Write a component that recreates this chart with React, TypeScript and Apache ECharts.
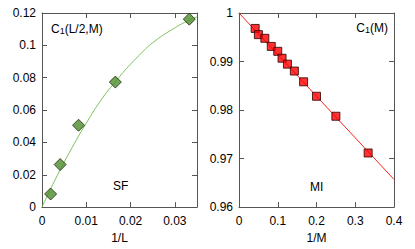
import React, { useEffect, useRef } from "react";
import * as echarts from "echarts";

// Left panel (SF): C1(L/2,M) vs 1/L
const sfX = [0.00195, 0.0041, 0.00825, 0.01656, 0.03326];
const sfY = [0.0081, 0.0263, 0.0506, 0.0773, 0.1162];
// fitted curve
const sfFitX = [0, 0.0034, 0.0068, 0.0104, 0.0138, 0.0167, 0.019, 0.022, 0.025, 0.0295, 0.0334, 0.035];
const sfFitY = [0, 0.0193, 0.0368, 0.0537, 0.068, 0.0779, 0.0854, 0.094, 0.1016, 0.11, 0.1158, 0.1176];

// Right panel (MI): C1(M) vs 1/M
const miX = [0.0417, 0.05, 0.0667, 0.0833, 0.1, 0.1111, 0.125, 0.1429, 0.1667, 0.2, 0.25, 0.3333];
const miY = [0.99682, 0.99554, 0.99479, 0.99311, 0.9921, 0.99068, 0.98946, 0.98804, 0.98582, 0.98284, 0.97872, 0.97115];
const miFitX = [0, 0.4];
const miFitY = [1.0, 0.9657];

const FONT = "Liberation Sans, Arial, Helvetica, sans-serif";
const AXC = "#555555";

function fmt(v: number) {
  return String(+v.toFixed(4));
}

export default function App() {
  const ref = useRef<HTMLDivElement>(null);
  useEffect(() => {
    document.body.style.margin = "0";
    const chart = echarts.init(ref.current!, null, { renderer: "svg" });
    const axisCommon = (show: boolean) => ({
      axisLine: { show: true, onZero: false, lineStyle: { color: AXC, width: 1 } },
      axisTick: { show: true, inside: true, length: 5, lineStyle: { color: AXC } },
      splitLine: { show: false },
      axisLabel: {
        show,
        color: "#000",
        fontSize: 12,
        fontFamily: FONT,
      },
    });
    const xLeft = {
      type: "value",
      gridIndex: 0,
      min: 0,
      max: 0.035,
      interval: 0.01,
      name: "1/L",
      nameLocation: "middle",
      nameGap: 24,
      nameTextStyle: { color: "#000", fontSize: 12, fontFamily: FONT },
    };
    const xLeftFmt = (v: number) =>
      Math.abs(v * 100 - Math.round(v * 100)) < 1e-6 ? fmt(v) : "";
    const option: any = {
      animation: false,
      backgroundColor: "#ffffff",
      grid: [
        { left: 42, top: 13, width: 155, height: 198 },
        { left: 239, top: 13, width: 155, height: 198 },
      ],
      xAxis: [
        {
          ...xLeft,
          ...axisCommon(true),
          position: "bottom",
          axisLabel: { ...axisCommon(true).axisLabel, margin: 8, formatter: xLeftFmt },
        },
        {
          ...xLeft,
          name: "",
          ...axisCommon(false),
          position: "top",
        },
        {
          type: "value",
          gridIndex: 1,
          min: 0,
          max: 0.4,
          interval: 0.1,
          name: "1/M",
          nameLocation: "middle",
          nameGap: 24,
          nameTextStyle: { color: "#000", fontSize: 12, fontFamily: FONT },
          ...axisCommon(true),
          position: "bottom",
          axisLabel: { ...axisCommon(true).axisLabel, margin: 8, formatter: fmt },
        },
        {
          type: "value",
          gridIndex: 1,
          min: 0,
          max: 0.4,
          interval: 0.1,
          ...axisCommon(false),
          position: "top",
        },
      ],
      yAxis: [
        {
          type: "value",
          gridIndex: 0,
          min: 0,
          max: 0.12,
          interval: 0.02,
          ...axisCommon(true),
          position: "left",
          axisLabel: { ...axisCommon(true).axisLabel, margin: 6, formatter: fmt },
        },
        {
          type: "value",
          gridIndex: 0,
          min: 0,
          max: 0.12,
          interval: 0.02,
          ...axisCommon(false),
          position: "right",
        },
        {
          type: "value",
          gridIndex: 1,
          min: 0.96,
          max: 1.0,
          interval: 0.01,
          ...axisCommon(true),
          position: "left",
          axisLabel: { ...axisCommon(true).axisLabel, margin: 6, formatter: fmt },
        },
        {
          type: "value",
          gridIndex: 1,
          min: 0.96,
          max: 1.0,
          interval: 0.01,
          ...axisCommon(false),
          position: "right",
        },
      ],
      series: [
        {
          type: "line",
          xAxisIndex: 0,
          yAxisIndex: 0,
          data: sfFitX.map((x, i) => [x, sfFitY[i]]),
          smooth: true,
          showSymbol: false,
          lineStyle: { color: "#7cc05a", width: 1 },
          z: 2,
        },
        {
          type: "scatter",
          xAxisIndex: 0,
          yAxisIndex: 0,
          data: sfX.map((x, i) => [x, sfY[i]]),
          symbol: "diamond",
          symbolSize: 12,
          itemStyle: { color: "#4e8c2c", borderColor: "#1c2c10", borderWidth: 1 },
          z: 3,
        },
        {
          type: "line",
          xAxisIndex: 2,
          yAxisIndex: 2,
          data: miFitX.map((x, i) => [x, miFitY[i]]),
          showSymbol: false,
          lineStyle: { color: "#ff2020", width: 1 },
          z: 2,
        },
        {
          type: "scatter",
          xAxisIndex: 2,
          yAxisIndex: 2,
          data: miX.map((x, i) => [x, miY[i]]),
          symbol: "rect",
          symbolSize: 8,
          itemStyle: { color: "#ff0000", borderColor: "#2a0000", borderWidth: 1 },
          z: 3,
        },
      ],
      graphic: [
        {
          type: "text",
          left: 51,
          top: 23,
          style: {
            text: "{n|C}{s|1}{n|(L/2,M)}",
            rich: {
              n: { fontSize: 12, fontFamily: FONT, fill: "#000" },
              s: { fontSize: 9, fontFamily: FONT, fill: "#000", verticalAlign: "bottom", padding: [4, 0, 0, 0] },
            },
          },
        },
        {
          type: "text",
          left: 113,
          top: 180,
          style: { text: "SF", fontSize: 12, fontFamily: FONT, fill: "#000" },
        },
        {
          type: "text",
          right: 27,
          top: 22,
          style: {
            text: "{n|C}{s|1}{n|(M)}",
            rich: {
              n: { fontSize: 12, fontFamily: FONT, fill: "#000" },
              s: { fontSize: 9, fontFamily: FONT, fill: "#000", verticalAlign: "bottom", padding: [4, 0, 0, 0] },
            },
          },
        },
        {
          type: "text",
          left: 310,
          top: 181,
          style: { text: "MI", fontSize: 12, fontFamily: FONT, fill: "#000" },
        },
      ],
    };
    chart.setOption(option);
    return () => chart.dispose();
  }, []);
  return <div ref={ref} style={{ width: 415, height: 249 }} />;
}
